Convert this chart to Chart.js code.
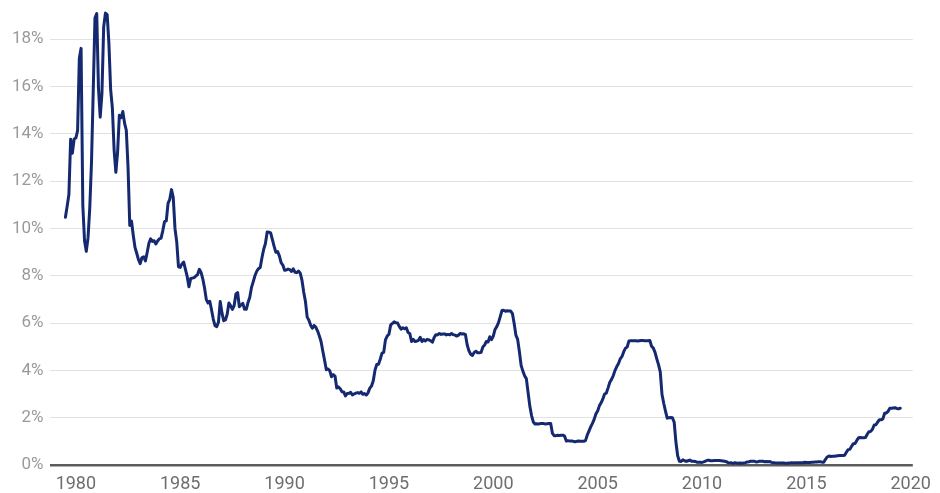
<html>
<head>
    <script src="https://cdn.jsdelivr.net/npm/chart.js"></script>
    <style>
        body { margin: 0; background: #fff; overflow: hidden; }
        canvas { display: block; }
    </style>
</head>
<body>
    <canvas id="rateChart" width="940" height="493"></canvas>

    <script>
        // monthly effective rate, first value is July 1979
        const startYear = 1979;
        const startMonth = 7;
        const rates = [
            10.47, 10.94, 11.43, 13.77, 13.18, 13.78,
            13.82, 14.13, 17.19, 17.61, 10.98, 9.47, 9.03, 9.61, 10.87, 12.81, 15.85, 18.90,
            19.08, 15.93, 14.70, 15.72, 18.52, 19.10, 19.04, 17.82, 15.87, 15.08, 13.31, 12.37,
            13.22, 14.78, 14.68, 14.94, 14.45, 14.15, 12.59, 10.12, 10.31, 9.71, 9.20, 8.95,
            8.68, 8.51, 8.77, 8.80, 8.63, 8.98, 9.37, 9.56, 9.45, 9.48, 9.34, 9.47,
            9.56, 9.59, 9.91, 10.29, 10.32, 11.06, 11.23, 11.64, 11.30, 9.99, 9.43, 8.38,
            8.35, 8.50, 8.58, 8.27, 7.97, 7.53, 7.88, 7.90, 7.92, 7.99, 8.05, 8.27,
            8.14, 7.86, 7.48, 6.99, 6.85, 6.92, 6.56, 6.17, 5.89, 5.85, 6.04, 6.91,
            6.43, 6.10, 6.13, 6.37, 6.85, 6.73, 6.58, 6.73, 7.22, 7.29, 6.69, 6.77,
            6.83, 6.58, 6.58, 6.87, 7.09, 7.51, 7.75, 8.01, 8.19, 8.30, 8.35, 8.76,
            9.12, 9.36, 9.85, 9.84, 9.81, 9.53, 9.24, 8.99, 9.02, 8.84, 8.55, 8.45,
            8.23, 8.24, 8.28, 8.26, 8.18, 8.29, 8.15, 8.13, 8.20, 8.11, 7.81, 7.31,
            6.91, 6.25, 6.12, 5.91, 5.78, 5.90, 5.82, 5.66, 5.45, 5.21, 4.81, 4.43,
            4.03, 4.06, 3.98, 3.73, 3.82, 3.76, 3.25, 3.30, 3.22, 3.10, 3.09, 2.92,
            3.02, 3.03, 3.07, 2.96, 3.00, 3.04, 3.06, 3.03, 3.09, 2.99, 3.02, 2.96,
            3.05, 3.25, 3.34, 3.56, 4.01, 4.25, 4.26, 4.47, 4.73, 4.76, 5.29, 5.45,
            5.53, 5.92, 5.98, 6.05, 6.01, 6.00, 5.85, 5.74, 5.80, 5.76, 5.80, 5.60,
            5.56, 5.22, 5.31, 5.22, 5.24, 5.27, 5.40, 5.22, 5.30, 5.24, 5.31, 5.29,
            5.25, 5.19, 5.39, 5.51, 5.50, 5.56, 5.52, 5.54, 5.54, 5.50, 5.52, 5.50,
            5.56, 5.51, 5.49, 5.45, 5.49, 5.56, 5.54, 5.55, 5.51, 5.07, 4.83, 4.68,
            4.63, 4.76, 4.81, 4.74, 4.74, 4.76, 4.99, 5.07, 5.22, 5.20, 5.42, 5.30,
            5.45, 5.73, 5.85, 6.02, 6.27, 6.53, 6.54, 6.50, 6.52, 6.51, 6.51, 6.40,
            5.98, 5.49, 5.31, 4.80, 4.21, 3.97, 3.77, 3.65, 3.07, 2.49, 2.09, 1.82,
            1.73, 1.74, 1.73, 1.75, 1.75, 1.75, 1.73, 1.74, 1.75, 1.75, 1.34, 1.24,
            1.24, 1.26, 1.25, 1.26, 1.26, 1.22, 1.01, 1.03, 1.01, 1.01, 1.00, 0.98,
            1.00, 1.01, 1.00, 1.00, 1.00, 1.03, 1.26, 1.43, 1.61, 1.76, 1.93, 2.16,
            2.28, 2.50, 2.63, 2.79, 3.00, 3.04, 3.26, 3.50, 3.62, 3.78, 4.00, 4.16,
            4.29, 4.49, 4.59, 4.79, 4.94, 4.99, 5.24, 5.25, 5.25, 5.25, 5.25, 5.24,
            5.25, 5.26, 5.26, 5.25, 5.25, 5.25, 5.26, 5.02, 4.94, 4.76, 4.49, 4.24,
            3.94, 2.98, 2.61, 2.28, 1.98, 2.00, 2.01, 2.00, 1.81, 0.97, 0.39, 0.16,
            0.15, 0.22, 0.18, 0.15, 0.18, 0.21, 0.16, 0.16, 0.15, 0.12, 0.12, 0.12,
            0.11, 0.13, 0.16, 0.20, 0.20, 0.18, 0.18, 0.19, 0.19, 0.19, 0.19, 0.18,
            0.17, 0.16, 0.14, 0.10, 0.09, 0.09, 0.07, 0.10, 0.08, 0.07, 0.08, 0.07,
            0.08, 0.10, 0.13, 0.14, 0.16, 0.16, 0.16, 0.13, 0.14, 0.16, 0.16, 0.16,
            0.14, 0.15, 0.14, 0.15, 0.11, 0.09, 0.09, 0.08, 0.08, 0.09, 0.08, 0.09,
            0.07, 0.07, 0.08, 0.09, 0.09, 0.10, 0.09, 0.09, 0.09, 0.09, 0.09, 0.12,
            0.11, 0.11, 0.11, 0.12, 0.12, 0.13, 0.13, 0.14, 0.14, 0.12, 0.12, 0.24,
            0.34, 0.38, 0.36, 0.37, 0.37, 0.38, 0.39, 0.40, 0.40, 0.40, 0.41, 0.54,
            0.65, 0.66, 0.79, 0.90, 0.91, 1.04, 1.15, 1.16, 1.15, 1.15, 1.16, 1.30,
            1.41, 1.42, 1.51, 1.69, 1.70, 1.82, 1.91, 1.91, 1.95, 2.19, 2.20, 2.27,
            2.40, 2.40, 2.41, 2.42, 2.39, 2.38, 2.40
        ];
        const yearTicks = [1980, 1985, 1990, 1995, 2000, 2005, 2010, 2015, 2020];
        const pctTicks = [0, 2, 4, 6, 8, 10, 12, 14, 16, 18];

        const points = rates.map((r, i) => ({ x: startYear + (startMonth - 1 + i) / 12, y: r }));

        const ctx = document.getElementById('rateChart').getContext('2d');
        const rateChart = new Chart(ctx, {
            type: 'line',
            data: {
                datasets: [{
                    data: points,
                    borderColor: '#14296f',
                    borderWidth: 3,
                    pointRadius: 0,
                    tension: 0,
                    borderJoinStyle: 'round',
                    borderCapStyle: 'round',
                    clip: false
                }]
            },
            options: {
                responsive: false,
                animation: false,
                layout: { padding: { left: 6, right: 19, top: 0, bottom: 0 } },
                plugins: {
                    legend: { display: false },
                    tooltip: { enabled: false }
                },
                scales: {
                    x: {
                        type: 'linear',
                        min: 1978.74,
                        max: 2020.1,
                        afterBuildTicks: axis => { axis.ticks = yearTicks.map(v => ({ value: v })); },
                        afterFit: axis => { axis.height = 28; },
                        grid: { display: false, drawTicks: false },
                        border: { display: false },
                        ticks: {
                            color: '#6e6e6e',
                            padding: 9,
                            maxRotation: 0,
                            autoSkip: false,
                            font: { family: 'Roboto', size: 18 },
                            callback: v => String(v)
                        }
                    },
                    y: {
                        min: 0,
                        max: 18.97,
                        afterBuildTicks: axis => { axis.ticks = pctTicks.map(v => ({ value: v })); },
                        border: { display: false },
                        grid: {
                            drawTicks: false,
                            color: c => c.tick && c.tick.value === 0 ? '#5c5c5c' : '#e2e2e2',
                            lineWidth: c => c.tick && c.tick.value === 0 ? 2.5 : 1
                        },
                        ticks: {
                            color: '#9a9a9a',
                            padding: 6,
                            font: { family: 'Roboto', size: 17 },
                            callback: v => v + '%'
                        }
                    }
                }
            }
        });
    </script>
</body>
</html>
